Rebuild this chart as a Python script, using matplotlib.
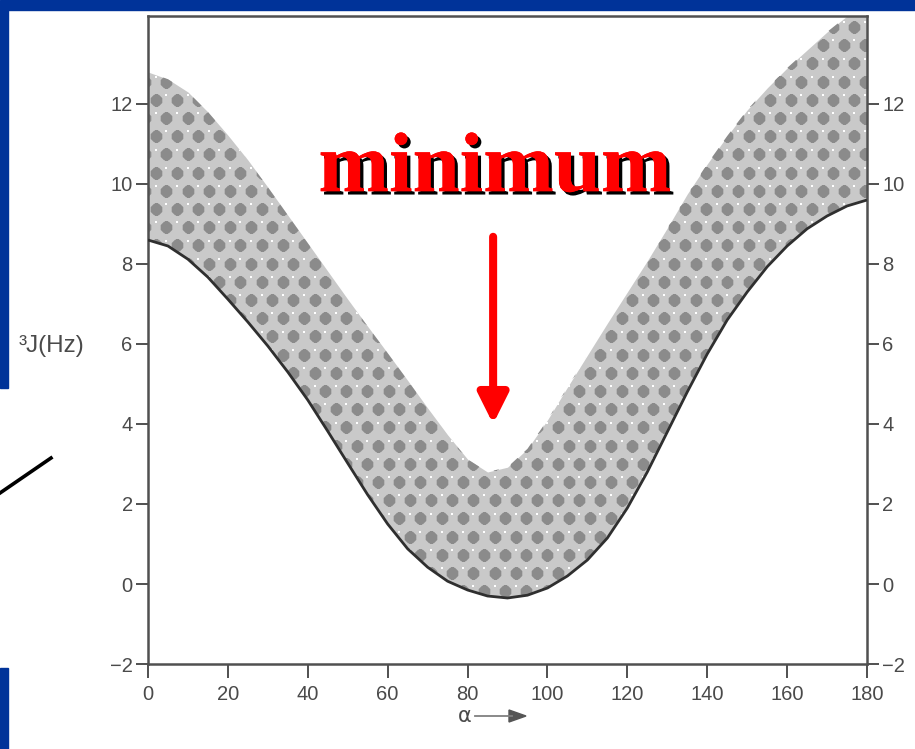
import numpy as np
import matplotlib
matplotlib.use("Agg")
import matplotlib.pyplot as plt
from matplotlib.patches import Rectangle, Polygon
from matplotlib.lines import Line2D
import matplotlib.patheffects as pe

# Dihedral angle alpha (degrees) and the range of 3J coupling constants (Hz)
alpha = [0, 5, 10, 15, 20, 25, 30, 35, 40, 45, 50, 55, 60, 65, 70, 75, 80, 85, 90,
         95, 100, 105, 110, 115, 120, 125, 130, 135, 140, 145, 150, 155, 160, 165,
         170, 175, 180]
j_lower = [8.6, 8.45, 8.12, 7.67, 7.12, 6.55, 5.95, 5.3, 4.6, 3.82, 3.02, 2.23, 1.5,
           0.88, 0.42, 0.07, -0.15, -0.3, -0.35, -0.28, -0.1, 0.2, 0.6, 1.15, 1.9,
           2.8, 3.8, 4.8, 5.75, 6.6, 7.3, 7.93, 8.45, 8.88, 9.2, 9.45, 9.6]
j_upper = [12.8, 12.62, 12.3, 11.8, 11.22, 10.6, 9.92, 9.22, 8.52, 7.82, 7.12, 6.44,
           5.77, 5.09, 4.4, 3.73, 3.12, 2.8, 2.92, 3.38, 4.1, 4.92, 5.72, 6.52, 7.3,
           8.08, 8.9, 9.75, 10.5, 11.2, 11.85, 12.4, 12.9, 13.35, 13.8, 14.2, 14.55]
x_ticks = [0, 20, 40, 60, 80, 100, 120, 140, 160, 180]
y_ticks = [-2, 0, 2, 4, 6, 8, 10, 12]
minimum_alpha = 86.4

W, H = 915, 749
BLUE = "#003399"
INK = "#4a4a4a"
FRAME = "#505050"

fig = plt.figure(figsize=(W / 100, H / 100), dpi=100)
fig.patch.set_facecolor("white")


def fx(px):
    return px / W


def fy(py):
    return 1 - py / H


# slide frame
for (x0, y0, x1, y1) in [(0, 0, W, 10), (0, 10, 8, 388), (0, 668, 8, H)]:
    fig.patches.append(Rectangle((fx(x0), fy(y1)), fx(x1 - x0), (y1 - y0) / H,
                                 transform=fig.transFigure, color=BLUE, zorder=0))
fig.lines.append(Line2D([fx(0), fx(51)], [fy(493), fy(458)], color="black", lw=2.6,
                        transform=fig.transFigure))

ax = fig.add_axes([fx(148), fy(664), (867 - 148) / W, (664 - 16) / H])
ymin, ymax = -2, 14.2
ax.set_xlim(0, 180)
ax.set_ylim(ymin, ymax)

band = ax.fill_between(alpha, j_lower, j_upper, color="#c9c9c9", lw=0, zorder=1)
band_path = band.get_paths()[0]

# stippled texture inside the band (hexagonal lattice of dark dots)
sx, sy = 5.3, 0.455
rows = np.arange(ymin, ymax - 0.16, sy)
gx, gy = [], []
for k, yv in enumerate(rows):
    xs = np.arange(-6, 186, sx) + (sx / 2 if k % 2 else 0)
    gx.extend(xs)
    gy.extend([yv] * len(xs))
gx, gy = np.array(gx), np.array(gy)
blobs = ax.scatter(gx, gy, s=82, marker="8", color="#8b8b8b", lw=0, zorder=2)
blobs.set_clip_path(band_path, ax.transData)
keep = gy + 0.12 < ymax - 0.05
specks = ax.scatter(gx[keep] + sx * 0.5, gy[keep] + 0.12, s=2.5,
                    marker="s", color="white", lw=0, zorder=2)
specks.set_clip_path(band_path, ax.transData)

ax.plot(alpha, j_lower, color="#2f2f2f", lw=2.0, zorder=3, solid_capstyle="butt")

for s in ax.spines.values():
    s.set_color(FRAME)
    s.set_linewidth(1.8)

ax.set_xticks(x_ticks)
ax.set_yticks(y_ticks)
ax.tick_params(axis="x", direction="out", length=10, width=1.4, color=FRAME,
               labelsize=14.5, labelcolor=INK, pad=5)
ax.tick_params(axis="y", direction="out", length=8.5, width=1.4, color=FRAME,
               labelsize=14.5, labelcolor=INK, left=True, right=True,
               labelleft=True, labelright=True, pad=2.5)
for lab in ax.get_xticklabels() + ax.get_yticklabels():
    lab.set_family("Liberation Sans")

fig.text(fx(19), fy(346), "³J(Hz)", fontsize=17.5, color=INK,
         family="Liberation Sans", ha="left", va="center")
fig.text(fx(465), fy(716), "α", fontsize=15, color=INK, family="DejaVu Sans",
         ha="center", va="center")
fig.lines.append(Line2D([fx(475), fx(512)], [fy(716), fy(716)], color="#808080",
                        lw=1.3, transform=fig.transFigure))
fig.patches.append(Polygon([[fx(509), fy(710)], [fx(526), fy(716)], [fx(509), fy(722)]],
                           closed=True, color="#555555", transform=fig.transFigure))

# annotation: the minimum of the band
ax.annotate("", xy=(minimum_alpha, 4.0), xytext=(minimum_alpha, 8.68),
            arrowprops=dict(arrowstyle="-|>,head_length=0.6,head_width=0.3",
                            mutation_scale=30, color="#ff0000", lw=5.8,
                            shrinkA=0, shrinkB=0),
            zorder=5)
ax.text(minimum_alpha + 0.5, 9.82, "minimum", fontsize=61, fontweight="bold",
        family="Liberation Serif", color="#ff0000", ha="center", va="baseline",
        zorder=6,
        path_effects=[pe.withSimplePatchShadow(offset=(2.4, -2.4),
                                               shadow_rgbFace="black", alpha=1.0),
                      pe.Normal()])

fig.savefig("out.png", dpi=100)
